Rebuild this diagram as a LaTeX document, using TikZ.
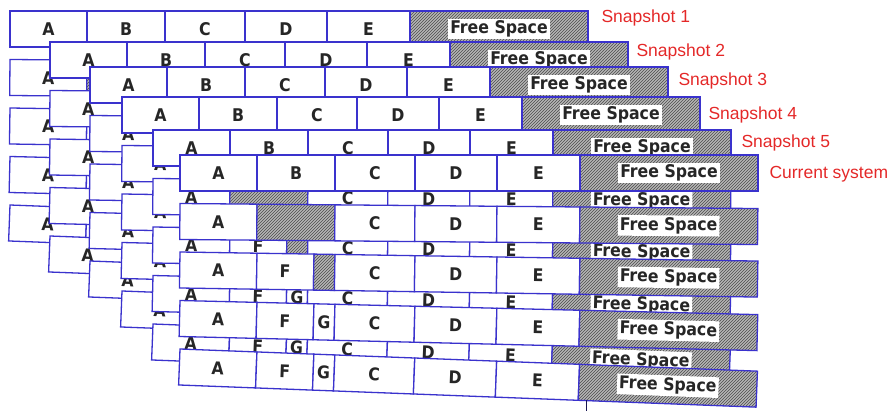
\documentclass[tikz,border=0pt]{standalone}
\usepackage{fontspec}
\setmainfont{DejaVu Sans}
\newfontfamily\cellfont{DejaVu Sans Condensed}
\newfontfamily\labelfont{Liberation Sans}
\usetikzlibrary{positioning,patterns}

\definecolor{diskblue}{RGB}{58,50,205}
\definecolor{snapred}{RGB}{228,40,40}
\definecolor{hatchgray}{RGB}{182,182,182}

% cell lists: style/label/width
\def\cellsAB{cell/A/77, cell/B/78, cell/C/80, cell/D/82, cell/E/83, freecell//178}
\def\cellsgap{cell/A/77, freecell//78, cell/C/80, cell/D/82, cell/E/83, freecell//178}
\def\cellsF{cell/A/77, cell/F/57, freecell//21, cell/C/80, cell/D/82, cell/E/83, freecell//178}
\def\cellsFG{cell/A/77, cell/F/57, cell/G/21, cell/C/80, cell/D/82, cell/E/83, freecell//178}

% one disk bar: #1 frame, #2 slot, #3 x, #4 y, #5 tilt, #6 cells
\newcommand\diskbar[6]{%
  \edef\barcells{#6}%
  \begin{scope}[shift={(#3,{-(#4)})}, rotate=#5, transform shape]
    \coordinate (f#1s#2c0) at (0,-18);
    \foreach \sty/\lbl/\cw [count=\i] in \barcells {
      \pgfmathtruncatemacro\lasti{\i-1}
      \node[\sty, minimum width=\cw pt, right=0pt of f#1s#2c\lasti,
            alias=f#1s#2fs] (f#1s#2c\i) {\lbl};
    }
    \node[freetext] (f#1s#2txt) at (f#1s#2fs) {Free Space};
  \end{scope}}

\begin{document}
\begin{tikzpicture}[x=1pt, y=1pt]

\tikzset{
  cell/.style={
    draw=diskblue, fill=white, line width=1.3pt,
    minimum height=36pt, inner sep=0pt, outer sep=0pt,
    font=\cellfont\bfseries\fontsize{17.5}{19}\selectfont, text=black!85
  },
  freecell/.style={
    cell, fill=none, preaction={fill=hatchgray},
    pattern=north east lines, pattern color=black!70
  },
  freetext/.style={fill=white, inner sep=2pt, text=black!85,
    font=\cellfont\bfseries\fontsize{17.5}{19}\selectfont},
  snaplabel/.style={anchor=west, text=snapred, font=\labelfont\fontsize{17.5}{20}\selectfont}
}

\useasboundingbox (0,0) rectangle (893,-411);

% ==========================
% Frames, back to front
% ==========================
\foreach \fr/\tilt/\cells in {5/-2.2/\cellsFG, 4/-1.4/\cellsFG, 3/-0.9/\cellsF,
                              2/-0.5/\cellsgap, 1/0/\cellsAB} {
  \foreach \s/\bx/\by in {1/10/11, 2/50/42, 3/90/67, 4/122/97, 5/153/130, 6/180/155} {
    \pgfmathsetmacro\byy{\by+48.5*(\fr-1)}
    \diskbar{\fr}{\s}{\bx}{\byy}{\tilt}{\cells}
  }
}

% small mark under the last bar
\draw[diskblue!40!black, line width=1pt] ([xshift=8pt]f5s6c6.south east) -- ++(0,-12);

% ==========================
% Labels
% ==========================
\node[snaplabel] (snap1) at (598,-18) {Snapshot 1};
\node[snaplabel] (snap2) at (633,-52) {Snapshot 2};
\node[snaplabel] (snap3) at (675,-81) {Snapshot 3};
\node[snaplabel] (snap4) at (705,-115) {Snapshot 4};
\node[snaplabel] (snap5) at (738,-143) {Snapshot 5};
\node[snaplabel] (current) at (766,-174) {Current system};

\end{tikzpicture}
\end{document}
